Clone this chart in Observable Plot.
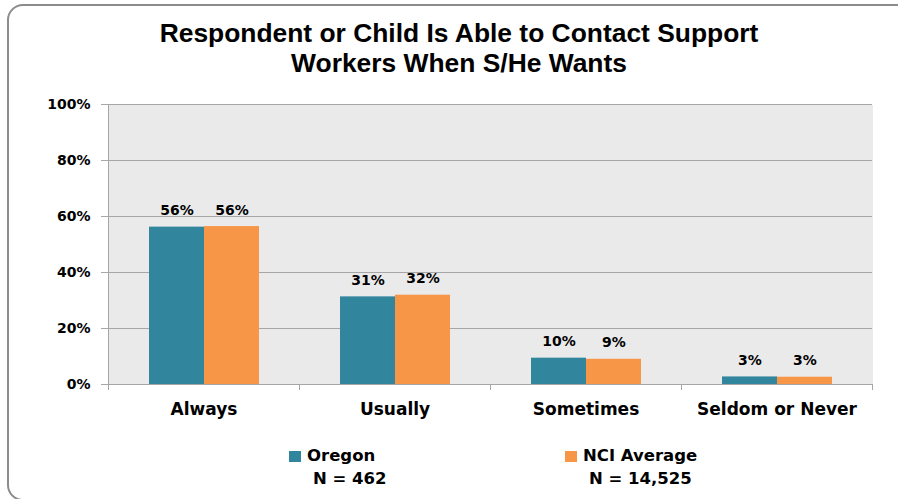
<!DOCTYPE html>
<html>
<head>
<meta charset="utf-8">
<script src="https://cdn.jsdelivr.net/npm/d3@7"></script>
<script src="https://cdn.jsdelivr.net/npm/@observablehq/plot@0.6"></script>
<style>
  html, body { margin: 0; padding: 0; background: #fff; overflow: hidden; }
  #wrap { position: relative; width: 898px; height: 499px; overflow: hidden; font-family: "DejaVu Sans", sans-serif; }
  #border { position: absolute; left: 7px; top: 4px; width: 960px; height: 497px; border: 2px solid #8c8c8c; border-radius: 16px; box-sizing: border-box; }
  .title { position: absolute; left: 0; width: 918px; text-align: center; font-family: "Liberation Sans", Arial, sans-serif; font-weight: bold; font-size: 26.4px; line-height: 30px; color: #000; white-space: nowrap; }
  #chart { position: absolute; left: 0; top: 0; }
  .leg { position: absolute; font-weight: bold; font-size: 16.5px; color: #000; white-space: nowrap; line-height: 20px; }
  .sw { position: absolute; width: 12px; height: 11px; }
</style>
</head>
<body>
<div id="wrap">
  <div id="border"></div>
  <div id="chart"></div>
  <div class="title" style="top:18px">Respondent or Child Is Able to Contact Support</div>
  <div class="title" style="top:48px">Workers When S/He Wants</div>
  <div id="legend"></div>
</div>
<script>
const categories = ["Always", "Usually", "Sometimes", "Seldom or Never"];
const seriesNames = ["Oregon", "NCI Average"];
const seriesN = ["N = 462", "N = 14,525"];
const oregonValues = [56.2, 31.3, 9.4, 2.7];
const nciValues = [56.4, 31.9, 9.0, 2.6];
const oregonLabels = ["56%", "31%", "10%", "3%"];
const nciLabels = ["56%", "32%", "9%", "3%"];
const yTicks = [0, 20, 40, 60, 80, 100];
const colors = ["#31859C", "#F79646"];

const data = categories.flatMap((c, i) => [
  {category: c, series: seriesNames[0], value: oregonValues[i], label: oregonLabels[i]},
  {category: c, series: seriesNames[1], value: nciValues[i], label: nciLabels[i]}
]);

const W = 898, H = 425, mT = 104, mB = 41, mL = 108, mR = 26;
const axisGray = "#A6A6A6";
const SVGNS = "http://www.w3.org/2000/svg";

// Facet edge decorations: small category-boundary ticks below the x axis in every facet,
// and the vertical y-axis line in the first (left-most) facet only.
let facetCount = 0;
function facetEdges(index, scales, values, dimensions) {
  const {width, height, marginTop, marginLeft, marginRight, marginBottom} = dimensions;
  const first = facetCount++ === 0;
  const g = document.createElementNS(SVGNS, "g");
  const y0 = height - marginBottom;
  const addLine = (x, y1, y2) => {
    const l = document.createElementNS(SVGNS, "line");
    l.setAttribute("x1", x + 0.5); l.setAttribute("x2", x + 0.5);
    l.setAttribute("y1", y1); l.setAttribute("y2", y2);
    l.setAttribute("stroke", axisGray);
    g.appendChild(l);
  };
  addLine(width - marginRight, y0, y0 + 6);
  if (first) addLine(marginLeft, marginTop, y0 + 6);
  return g;
}

const chart = Plot.plot({
  width: W, height: H,
  marginTop: mT, marginBottom: mB, marginLeft: mL, marginRight: mR,
  style: {fontFamily: "DejaVu Sans, sans-serif", color: "#000", background: "transparent", overflow: "visible"},
  fx: {domain: categories, padding: 0, label: null},
  x: {domain: seriesNames, paddingInner: 0, paddingOuter: 0.736, axis: null},
  y: {domain: [0, 100], label: null},
  color: {domain: seriesNames, range: colors},
  marks: [
    Plot.frame({fill: "#EAEAEA", stroke: "none", insetLeft: -1, shapeRendering: "crispEdges"}),
    Plot.gridY(yTicks, {stroke: axisGray, strokeOpacity: 1, strokeWidth: 1, insetLeft: -1}),
    facetEdges,
    Plot.axisY(yTicks, {tickSize: 7, tickPadding: 11, tickFormat: d => d + "%", stroke: axisGray, fill: "#000", fontSize: 14, fontWeight: "bold", label: null}),
    Plot.axisFx({anchor: "bottom", tickSize: 0, tickPadding: 18, fontSize: 17, fontWeight: "bold", fill: "#000", label: null}),
    Plot.barY(data, {fx: "category", x: "series", y: "value", fill: "series"}),
    Plot.text(data, {fx: "category", x: "series", y: "value", text: "label", dy: -12, lineAnchor: "bottom", fontSize: 14, fontWeight: "bold", fill: "#000"})
  ]
});
document.getElementById("chart").appendChild(chart);

// legend
const legend = document.getElementById("legend");
const legPos = [{x: 289, n: 313}, {x: 565, n: 589}];
seriesNames.forEach((s, i) => {
  const sw = document.createElement("div");
  sw.className = "sw";
  sw.style.left = legPos[i].x + "px";
  sw.style.top = "451px";
  sw.style.background = colors[i];
  legend.appendChild(sw);
  const t = document.createElement("div");
  t.className = "leg";
  t.style.left = (legPos[i].x + 18) + "px";
  t.style.top = "446px";
  t.textContent = s;
  legend.appendChild(t);
  const n = document.createElement("div");
  n.className = "leg";
  n.style.left = legPos[i].n + "px";
  n.style.top = "469px";
  n.textContent = seriesN[i];
  legend.appendChild(n);
});
</script>
</body>
</html>
